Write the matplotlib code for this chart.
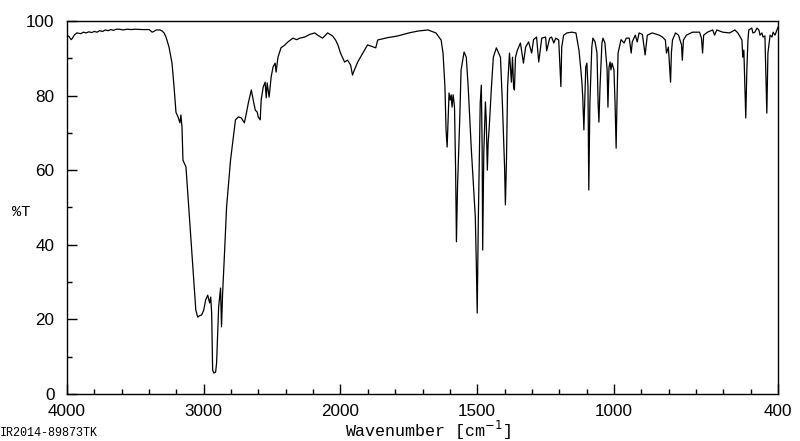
import numpy as np
import matplotlib
matplotlib.use("Agg")
import matplotlib.pyplot as plt
from matplotlib.ticker import FixedLocator, NullFormatter

# spectrum: wavenumber [cm-1] and %T
wavenumber = [
    4000, 3985, 3970, 3962, 3945, 3928, 3900, 3880, 3860, 3840, 3820, 3800,
    3780, 3761, 3740, 3720, 3700, 3680, 3660, 3640, 3616, 3590, 3560, 3530,
    3500, 3450, 3399, 3377, 3360, 3348, 3320, 3304, 3290, 3275, 3254, 3232,
    3217, 3203, 3188, 3174, 3167, 3159, 3152, 3130, 3087, 3058, 3044, 3030,
    3015, 3000, 2986, 2971, 2957, 2949, 2942, 2935, 2925, 2913, 2906, 2891,
    2877, 2870, 2862, 2848, 2833, 2804, 2768, 2746, 2725, 2703, 2688, 2674,
    2652, 2638, 2623, 2609, 2602, 2587, 2580, 2565, 2551, 2543, 2536, 2522,
    2507, 2493, 2478, 2471, 2457, 2435, 2406, 2384, 2348, 2320, 2297, 2261,
    2225, 2188, 2167, 2131, 2094, 2058, 2036, 2018, 2000, 1985, 1974, 1963,
    1956, 1949, 1937, 1901, 1871, 1864, 1830, 1790, 1750, 1717, 1680, 1651,
    1632, 1625, 1618, 1614, 1610, 1603, 1599, 1595, 1592, 1588, 1583, 1579,
    1576, 1572, 1564, 1559, 1548, 1540, 1533, 1522, 1507, 1503, 1500, 1496,
    1489, 1485, 1482, 1480, 1476, 1470, 1467, 1463, 1460, 1456, 1448, 1441,
    1430, 1415, 1408, 1400, 1397, 1393, 1389, 1382, 1378, 1375, 1371, 1367,
    1364, 1360, 1353, 1342, 1331, 1323, 1312, 1301, 1294, 1283, 1275, 1264,
    1250, 1246, 1235, 1228, 1220, 1213, 1202, 1194, 1191, 1184, 1172, 1154,
    1139, 1128, 1121, 1117, 1114, 1110, 1103, 1099, 1095, 1092, 1088, 1081,
    1077, 1069, 1062, 1058, 1055, 1051, 1044, 1040, 1033, 1025, 1022, 1018,
    1014, 1011, 1007, 1000, 996, 992, 989, 985, 974, 963, 955, 944,
    937, 933, 922, 915, 908, 896, 886, 878, 860, 834, 823, 812,
    808, 801, 793, 790, 786, 775, 764, 753, 750, 746, 735, 713,
    687, 680, 676, 672, 658, 639, 632, 624, 602, 577, 558, 547,
    532, 529, 525, 521, 518, 514, 510, 507, 496, 492, 485, 477,
    470, 466, 459, 455, 448, 444, 441, 437, 429, 422, 418, 411,
    404, 400,
]
transmittance = [
    96.2, 95.8, 95.0, 95.3, 96.3, 96.8, 96.6, 97.0, 96.8, 97.1, 96.9, 97.2,
    97.0, 97.4, 97.2, 97.6, 97.4, 97.7, 97.5, 97.8, 97.8, 97.6, 97.8, 97.7,
    97.8, 97.7, 97.7, 97.0, 97.3, 97.6, 97.6, 97.3, 96.8, 95.6, 93.0, 88.7,
    82.3, 75.5, 74.3, 72.7, 74.8, 71.6, 62.7, 60.9, 37.8, 22.5, 20.6, 21.0,
    21.2, 22.5, 25.2, 26.5, 24.4, 26.0, 21.7, 6.4, 5.6, 5.9, 8.3, 23.3,
    28.4, 18.0, 27.0, 37.8, 50.1, 62.7, 73.5, 74.3, 74.0, 72.7, 75.3, 78.0,
    81.5, 78.8, 76.1, 75.6, 74.3, 73.5, 78.8, 82.3, 83.6, 79.4, 83.4, 79.6,
    85.0, 87.7, 88.7, 86.3, 90.3, 92.8, 93.6, 94.4, 95.4, 95.0, 95.4, 95.7,
    96.4, 96.8, 96.2, 95.4, 96.8, 96.0, 94.9, 93.5, 91.4, 89.0, 89.5, 88.2,
    85.5, 86.9, 89.0, 93.6, 92.8, 94.9, 95.5, 96.0, 96.8, 97.3, 97.6, 96.8,
    94.9, 91.4, 82.3, 70.8, 66.2, 80.7, 78.8, 80.2, 76.9, 80.2, 76.9, 60.0,
    40.8, 55.5, 73.5, 86.9, 91.7, 90.3, 82.3, 66.2, 47.5, 33.8, 21.7, 46.6,
    78.0, 82.8, 66.0, 38.6, 64.6, 78.3, 73.5, 60.0, 67.3, 71.6, 82.3, 90.3,
    92.8, 90.3, 78.0, 60.9, 50.7, 62.7, 82.3, 91.4, 86.9, 83.6, 90.3, 82.3,
    81.5, 90.3, 92.2, 94.1, 88.7, 93.0, 94.4, 91.4, 95.0, 95.7, 89.0, 95.4,
    95.7, 92.0, 95.4, 95.7, 94.1, 95.4, 94.9, 82.4, 93.0, 96.2, 96.8, 97.0,
    96.8, 92.2, 86.9, 83.4, 79.4, 70.8, 87.7, 88.7, 82.3, 54.7, 78.0, 93.0,
    95.4, 94.4, 91.4, 78.0, 72.9, 82.3, 94.1, 95.4, 94.1, 86.9, 76.9, 87.7,
    89.0, 86.9, 88.7, 86.9, 78.0, 65.9, 78.0, 91.4, 95.0, 94.1, 95.4, 95.4,
    91.4, 94.4, 96.2, 94.4, 96.8, 96.4, 90.9, 96.2, 96.8, 96.2, 95.7, 94.9,
    91.4, 93.0, 83.6, 91.4, 94.9, 96.8, 96.2, 93.6, 89.5, 94.9, 96.2, 97.0,
    97.0, 95.4, 91.4, 96.2, 97.0, 97.6, 96.2, 97.6, 97.0, 96.8, 97.6, 96.8,
    94.9, 90.3, 92.2, 82.3, 74.0, 87.0, 94.9, 97.6, 98.1, 96.8, 97.0, 98.1,
    97.6, 96.2, 96.8, 95.7, 96.0, 84.2, 75.3, 91.4, 96.2, 95.7, 97.0, 96.2,
    97.6, 98.4,
]

xlabels = [4000, 3000, 2000, 1500, 1000, 400]
xminor = list(range(3800, 2000, -200)) + list(range(1900, 400, -100))


def fwd(w):
    w = np.asarray(w, dtype=float)
    return np.where(w > 2000, 2000 + (w - 2000) / 2, w)


def inv(u):
    u = np.asarray(u, dtype=float)
    return np.where(u > 2000, 2000 + (u - 2000) * 2, u)


fig = plt.figure(figsize=(8, 4.41), dpi=100)
ax = fig.add_axes([0.08375, 0.1066, 0.8888, 0.8458])
ax.plot(wavenumber, transmittance, color="black", lw=0.9)

ax.set_xscale("function", functions=(fwd, inv))
ax.set_xlim(4000, 400)
ax.set_ylim(0, 100)

ax.xaxis.set_major_locator(FixedLocator(xlabels))
ax.xaxis.set_minor_locator(FixedLocator(xminor))
ax.xaxis.set_minor_formatter(NullFormatter())
ax.set_xticklabels([str(v) for v in xlabels], family="Liberation Sans", fontsize=12.3)
ax.yaxis.set_major_locator(FixedLocator([0, 20, 40, 60, 80, 100]))
ax.yaxis.set_minor_locator(FixedLocator([10, 30, 50, 70, 90]))
ax.set_yticklabels(["0", "20", "40", "60", "80", "100"], family="Liberation Sans", fontsize=12.3)

ax.tick_params(which="both", direction="in", top=False, right=False, color="black", width=1)
ax.tick_params(which="major", length=7)
ax.tick_params(which="minor", length=3.5)
ax.tick_params(axis="x", which="major", pad=7)
ax.tick_params(axis="y", which="major", pad=9)
for s in ax.spines.values():
    s.set_linewidth(1)
    s.set_color("black")

fig.text(0.535, 0.008, r"Wavenumber [cm$^{-1}$]", family="Liberation Mono", fontsize=12,
         ha="center", va="baseline")
fig.text(0.015, 0.52, "%T", family="Liberation Mono", fontsize=11, ha="left", va="center")
fig.text(0.0, 0.005, "IR2014-89873TK", family="Liberation Mono", fontsize=8.5,
         ha="left", va="bottom")

fig.savefig("out.png", dpi=100)
